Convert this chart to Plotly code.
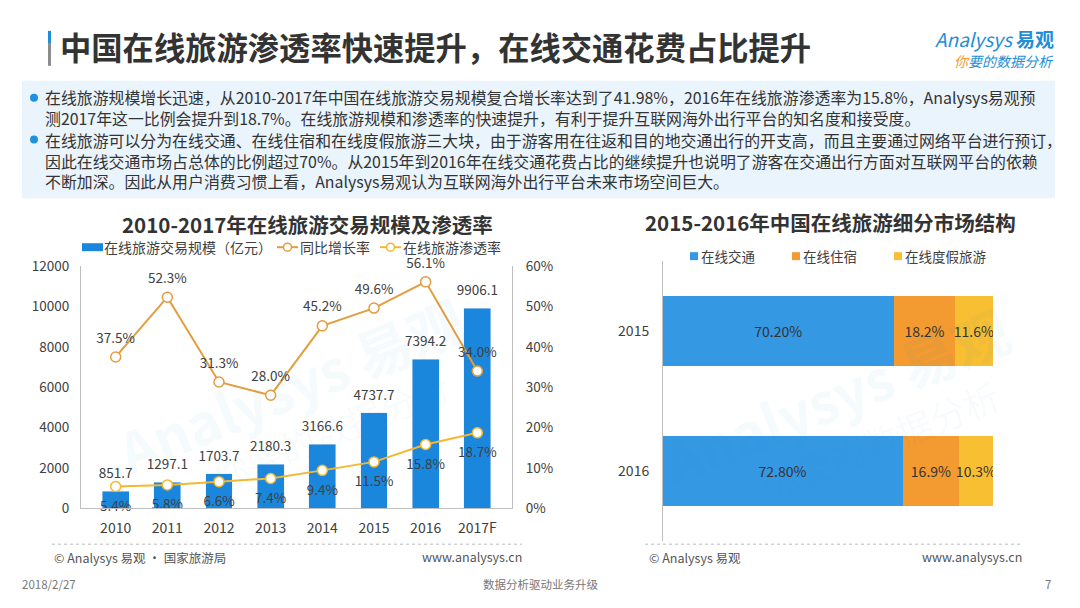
import plotly.graph_objs as go

# left chart data
years = ['2010', '2011', '2012', '2013', '2014', '2015', '2016', '2017F']
scale = [851.7, 1297.1, 1703.7, 2180.3, 3166.6, 4737.7, 7394.2, 9906.1]
growth = [37.5, 52.3, 31.3, 28.0, 45.2, 49.6, 56.1, 34.0]
penetration = [5.4, 5.8, 6.6, 7.4, 9.4, 11.5, 15.8, 18.7]

# right chart data
seg_years = ['2015', '2016']
transport = [70.2, 72.8]
lodging = [18.2, 16.9]
vacation = [11.6, 10.3]

W, H = 1080, 608
FONT = 'Noto Sans CJK SC'
TXT = '#404040'
CLEAR = 'rgba(0,0,0,0)'


def px(x):
    return x / W


# the photographed page lands on rows ~10..600, so map reference rows onto that band
def py(y):
    return 1 - (y - 10) / 590.0


# ------------------------- traces -------------------------

plot_data = [
    go.Bar(
        x=years, y=scale, name='在线旅游交易规模（亿元）',
        marker=dict(color='#1a87dd'),
        xaxis='x', yaxis='y', showlegend=False,
    ),
    go.Scatter(
        x=years, y=growth, name='同比增长率', mode='lines+markers',
        line=dict(color='#e49d3e', width=2),
        marker=dict(size=10, color='white', line=dict(color='#e49d3e', width=1.5)),
        xaxis='x', yaxis='y2', showlegend=False,
    ),
    go.Scatter(
        x=years, y=penetration, name='在线旅游渗透率', mode='lines+markers',
        line=dict(color='#f5b731', width=2),
        marker=dict(size=10, color='white', line=dict(color='#f5b731', width=1.5)),
        xaxis='x', yaxis='y2', showlegend=False,
    ),
    # nhãn số liệu (marker trong suốt để đẩy chữ ra xa điểm)
    go.Scatter(
        x=years, y=scale, mode='markers+text', marker=dict(size=14, color=CLEAR),
        text=['%.1f' % v for v in scale], textposition='top center',
        textfont=dict(size=13.5, color=TXT), cliponaxis=False,
        xaxis='x', yaxis='y', showlegend=False, hoverinfo='skip',
    ),
    go.Scatter(
        x=years, y=growth, mode='markers+text', marker=dict(size=16, color=CLEAR),
        text=['%.1f%%' % v for v in growth], textposition='top center',
        textfont=dict(size=13.5, color=TXT), cliponaxis=False,
        xaxis='x', yaxis='y2', showlegend=False, hoverinfo='skip',
    ),
    go.Scatter(
        x=years, y=penetration, mode='markers+text', marker=dict(size=21, color=CLEAR),
        text=['%.1f%%' % v for v in penetration], textposition='bottom center',
        textfont=dict(size=13.5, color=TXT), cliponaxis=False,
        xaxis='x', yaxis='y2', showlegend=False, hoverinfo='skip',
    ),
]

seg_colors = ['#3598e3', '#f39a30', '#f8bf33']
seg_names = ['在线交通', '在线住宿', '在线度假旅游']
seg_vals = [transport, lodging, vacation]
for i in range(3):
    fmt = '%.2f%%' if i == 0 else '%.1f%%'
    plot_data.append(go.Bar(
        x=seg_vals[i], y=seg_years, orientation='h', name=seg_names[i],
        marker=dict(color=seg_colors[i], line=dict(width=0)),
        text=[fmt % v for v in seg_vals[i]], textposition='inside',
        insidetextanchor='middle', textangle=0, constraintext='none',
        textfont=dict(size=14, color='#333333'), width=0.5,
        xaxis='x2', yaxis='y3', showlegend=False,
    ))

# ------------------------- layout -------------------------

shapes = []
annotations = []


def text(x, y, s, size=13, color=TXT, xanchor='left', bold=False, **kw):
    if bold:
        s = '<b>' + s + '</b>'
    annotations.append(dict(
        x=px(x), y=py(y), xref='paper', yref='paper', text=s, showarrow=False,
        xanchor=xanchor, yanchor='middle', font=dict(family=FONT, size=size, color=color), **kw))


def rect(x0, y0, x1, y1, color, layer='below'):
    shapes.append(dict(type='rect', xref='paper', yref='paper',
                       x0=px(x0), x1=px(x1), y0=py(y1), y1=py(y0),
                       fillcolor=color, line=dict(width=0), layer=layer))


# page title
rect(48, 30, 51, 65, '#8c8c8c')
rect(48, 30, 51, 42, '#1e8ed8')
text(58, 46, '中国在线旅游渗透率快速提升，在线交通花费占比提升', size=31.3, color='#333333', bold=True)

# logo
text(1056, 38, '<i>Analysys</i> <b>易观</b>', size=19, color='#1e8ed8', xanchor='right')
text(1056, 60, '<i><span style="color:#f39a30">你</span>要的数据分析</i>', size=14,
     color='#1e8ed8', xanchor='right')

# description box
rect(22, 80, 1055, 198, '#eaf4fc')
shapes.append(dict(type='circle', xref='paper', yref='paper', x0=px(30), x1=px(38),
                   y0=py(101), y1=py(93), fillcolor='#1e90e0', line=dict(width=0)))
shapes.append(dict(type='circle', xref='paper', yref='paper', x0=px(30), x1=px(38),
                   y0=py(143), y1=py(135), fillcolor='#1e90e0', line=dict(width=0)))
para1 = ('在线旅游规模增长迅速，从2010-2017年中国在线旅游交易规模复合增长率达到了41.98%，2016年在线旅游渗透率为15.8%，Analysys易观预<br>'
         '测2017年这一比例会提升到18.7%。在线旅游规模和渗透率的快速提升，有利于提升互联网海外出行平台的知名度和接受度。')
para2 = ('在线旅游可以分为在线交通、在线住宿和在线度假旅游三大块，由于游客用在往返和目的地交通出行的开支高，而且主要通过网络平台进行预订，<br>'
         '因此在线交通市场占总体的比例超过70%。从2015年到2016年在线交通花费占比的继续提升也说明了游客在交通出行方面对互联网平台的依赖<br>'
         '不断加深。因此从用户消费习惯上看，Analysys易观认为互联网海外出行平台未来市场空间巨大。')
text(43, 107.5, para1, size=15.9, color='#333333', align='left')
text(43, 161, para2, size=15.9, color='#333333', align='left')

# watermarks
wm = 'rgba(30,142,216,0.045)'
text(290, 385, 'Analysys 易观', size=56, color=wm, xanchor='center', textangle=-22, bold=True)
text(330, 430, '你要的数据分析', size=36, color=wm, xanchor='center', textangle=-22)
text(835, 395, 'Analysys 易观', size=56, color=wm, xanchor='center', textangle=-22, bold=True)
text(880, 440, '你要的数据分析', size=36, color=wm, xanchor='center', textangle=-22)

# left chart title and legend
text(307, 224, '2010-2017年在线旅游交易规模及渗透率', size=20.5, color='#333333',
     xanchor='center', bold=True)
rect(82, 243, 103, 251, '#1a87dd')
text(102, 247, '在线旅游交易规模（亿元）', size=14)
for x0, col, name in [(277, '#e49d3e', '同比增长率'), (380, '#f5b731', '在线旅游渗透率')]:
    shapes.append(dict(type='line', xref='paper', yref='paper', x0=px(x0), x1=px(x0 + 21),
                       y0=py(247), y1=py(247), line=dict(color=col, width=2)))
    shapes.append(dict(type='circle', xref='paper', yref='paper', x0=px(x0 + 6.5), x1=px(x0 + 14.5),
                       y0=py(251), y1=py(243), fillcolor='white', line=dict(color=col, width=1.5)))
    text(x0 + 21, 247, name, size=14)

# right chart title and legend
text(830, 222, '2015-2016年中国在线旅游细分市场结构', size=20.5, color='#333333',
     xanchor='center', bold=True)
for x0, col, name in zip([690, 792, 894], seg_colors, seg_names):
    rect(x0, 252, x0 + 8, 260, col)
    text(x0 + 9, 256, name, size=13.5)

# footers
for x0, x1 in [(52, 522), (645, 1023)]:
    shapes.append(dict(type='line', xref='paper', yref='paper', x0=px(x0), x1=px(x1),
                       y0=py(545), y1=py(545), line=dict(color='#bbbbbb', width=1, dash='dot')))
text(52, 558, '© Analysys 易观 · 国家旅游局', size=12.5, color='#555555')
text(524, 557, 'www.analysys.cn', size=12.5, color='#555555', xanchor='right')
text(647, 558, '© Analysys 易观', size=12.5, color='#555555')
text(1024, 557, 'www.analysys.cn', size=12.5, color='#555555', xanchor='right')

text(20, 585, '2018/2/27', size=11.5, color='#777777')
text(540, 585, '数据分析驱动业务升级', size=11.5, color='#777777', xanchor='center')
text(1053, 585, '7', size=11.5, color='#777777', xanchor='right')

axis_font = dict(family=FONT, size=13.5, color=TXT)

plot_layout = go.Layout(
    width=W, height=H,
    margin=dict(l=0, r=0, t=0, b=0),
    paper_bgcolor='white', plot_bgcolor=CLEAR,
    font=dict(family=FONT, color=TXT),
    bargap=0.48, barmode='stack',
    xaxis=dict(domain=[px(81), px(512)], type='category', showgrid=False,
               showline=True, linecolor='#bfbfbf', ticks='',
               tickfont=dict(family=FONT, size=14, color=TXT), ticklabelstandoff=7,
               anchor='y', fixedrange=True),
    yaxis=dict(domain=[py(509), py(266)], range=[0, 12000], dtick=2000, tickformat='d',
               showgrid=False, zeroline=False, showline=True, linecolor='#bfbfbf',
               tickfont=axis_font, ticklabelstandoff=8, anchor='x'),
    yaxis2=dict(overlaying='y', side='right', range=[0, 60], dtick=10, ticksuffix='%',
                showgrid=False, zeroline=False, showline=True, linecolor='#bfbfbf',
                tickfont=axis_font, ticklabelstandoff=10, anchor='x'),
    xaxis2=dict(domain=[px(662), px(993)], range=[0, 100], visible=False, anchor='y3'),
    yaxis3=dict(domain=[py(542), py(261)], type='category', autorange='reversed',
                showgrid=False, showline=True, linecolor='#bfbfbf', ticks='',
                tickfont=dict(family=FONT, size=14, color=TXT), ticklabelstandoff=10,
                anchor='free', position=px(662)),
    shapes=shapes,
    annotations=annotations,
)

fig = go.Figure(data=plot_data, layout=plot_layout)
fig.write_html('out.html', post_script="document.body.style.margin='0';",
               config={'displayModeBar': False})
